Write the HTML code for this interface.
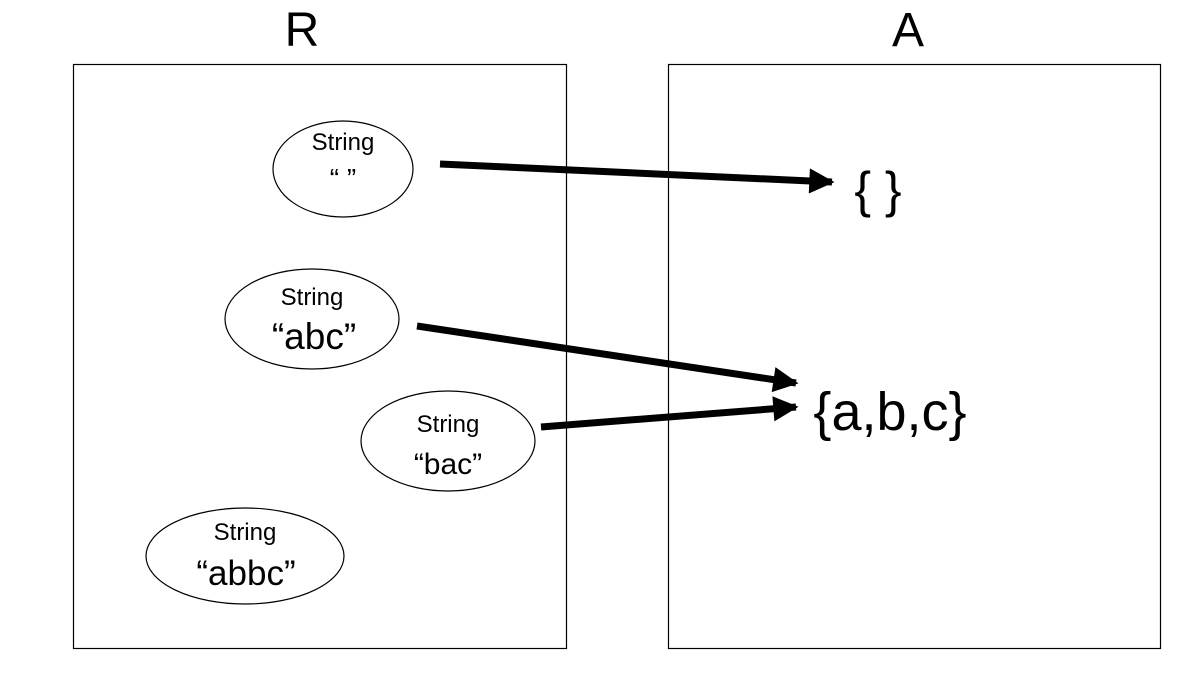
<!DOCTYPE html>
<html>
<head>
<meta charset="utf-8">
<style>
html,body{margin:0;padding:0;background:#fff;}
svg{display:block;font-family:"Liberation Sans",Arial,sans-serif;}
</style>
</head>
<body>
<svg width="1200" height="675" viewBox="0 0 1200 675">
<defs>
<marker id="ah" viewBox="0 0 10 10" refX="9" refY="5" markerWidth="4.5" markerHeight="3.6" orient="auto" markerUnits="strokeWidth">
<path d="M0,0 L10,5 L0,10 z" fill="#000"/>
</marker>
</defs>

<text x="302" y="46" font-size="48" text-anchor="middle">R</text>
<text x="908" y="46" font-size="48" text-anchor="middle">A</text>

<rect x="73.5" y="64.5" width="493" height="584" fill="none" stroke="#000" stroke-width="1.2"/>
<rect x="668.5" y="64.5" width="492" height="584" fill="none" stroke="#000" stroke-width="1.2"/>

<g>
<ellipse cx="343" cy="169" rx="70" ry="48" fill="#fff" stroke="#000" stroke-width="1.2"/>
<text x="343" y="150" font-size="24" text-anchor="middle">String</text>
<text x="343" y="188" font-size="28" text-anchor="middle">“ ”</text>
</g>
<g>
<ellipse cx="312" cy="319" rx="87" ry="50" fill="#fff" stroke="#000" stroke-width="1.2"/>
<text x="312" y="305" font-size="24" text-anchor="middle">String</text>
<text x="314" y="349" font-size="37" text-anchor="middle">“abc”</text>
</g>
<g>
<ellipse cx="448" cy="441" rx="87" ry="50" fill="#fff" stroke="#000" stroke-width="1.2"/>
<text x="448" y="432" font-size="24" text-anchor="middle">String</text>
<text x="448" y="474" font-size="30" text-anchor="middle">“bac”</text>
</g>
<g>
<ellipse cx="245" cy="556" rx="99" ry="48" fill="#fff" stroke="#000" stroke-width="1.2"/>
<text x="245" y="540" font-size="24" text-anchor="middle">String</text>
<text x="246" y="585" font-size="35" text-anchor="middle">“abbc”</text>
</g>

<line x1="440" y1="164" x2="832" y2="182" stroke="#000" stroke-width="7" marker-end="url(#ah)"/>
<line x1="417" y1="326" x2="796" y2="383" stroke="#000" stroke-width="7" marker-end="url(#ah)"/>
<line x1="541" y1="427" x2="796" y2="407" stroke="#000" stroke-width="7" marker-end="url(#ah)"/>

<text x="878" y="207" font-size="50" text-anchor="middle">{ }</text>
<text x="890" y="430" font-size="54" text-anchor="middle">{a,b,c}</text>
</svg>
</body>
</html>
